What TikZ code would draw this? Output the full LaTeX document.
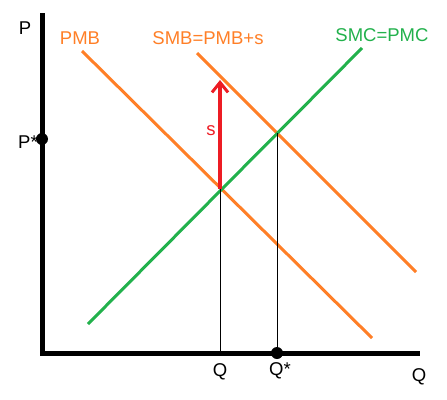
\documentclass[tikz,border=0pt]{standalone}
\usepackage{fontspec}
\setmainfont{Liberation Sans}
\usepackage{xcolor}
\usetikzlibrary{arrows.meta,positioning}
\definecolor{curveorange}{HTML}{FF7F27}
\definecolor{curvegreen}{HTML}{22B14C}
\definecolor{taxred}{HTML}{ED1C24}
\tikzset{
  axis/.style={line width=5pt, black},
  curve/.style={line width=3pt, draw=#1},
  guide/.style={line width=1pt, black},
  lbl/.style={font=\fontsize{18.5}{20}\selectfont, text=#1, inner sep=0pt},
  dotpt/.style={circle, fill=black, inner sep=0pt, minimum size=12pt},
  taxarr/.style={-{Straight Barb[length=10pt, width=16pt, line width=3pt]}, line width=3.2pt, taxred}
}
\begin{document}
\begin{tikzpicture}[x=1pt, y=-1pt]
\useasboundingbox (0,0) rectangle (447,399);
% axes
\coordinate (origin) at (42,353);
\coordinate (ptop) at (42,13);
\coordinate (qend) at (420,353);
\draw[axis] (ptop) -- (origin) -- (qend);
% curves
\coordinate (pmbA) at (82,51);
\coordinate (pmbB) at (372,338);
\coordinate (smbA) at (197,53);
\coordinate (smbB) at (416,272);
\coordinate (smcA) at (88,324);
\coordinate (smcB) at (362,48);
\draw[curve=curveorange] (pmbA) -- (pmbB);
\draw[curve=curveorange] (smbA) -- (smbB);
\draw[curve=curvegreen] (smcA) -- (smcB);
% equilibria
\coordinate (eqpriv) at (220,189);
\coordinate (eqsoc) at (277,133);
\coordinate (qpriv) at (220,353);
\node[dotpt] (qstar) at (277,353) {};
\node[dotpt] (pstar) at (42,139) {};
\draw[guide] (eqpriv) -- (qpriv);
\draw[guide] (eqsoc) -- (qstar.center);
% subsidy
\coordinate (stop) at (220,80);
\draw[taxarr] (eqpriv) -- (stop);
\node[lbl=taxred] (slbl) at (211,131) {s};
% labels
\node[lbl=black] (plbl) at (25,28) {P};
\node[lbl=black] (pstarlbl) at (28,142) {P*};
\node[lbl=black] (qlbl) at (220,372) {Q};
\node[lbl=black] (qstarlbl) at (280,371) {Q*};
\node[lbl=black] (qaxlbl) at (419,377) {Q};
\node[lbl=curveorange] (pmblbl) at (80,38) {PMB};
\node[lbl=curveorange] (smblbl) at (208,38) {SMB=PMB+s};
\node[lbl=curvegreen] (smclbl) at (382,35) {SMC=PMC};
\end{tikzpicture}
\end{document}
